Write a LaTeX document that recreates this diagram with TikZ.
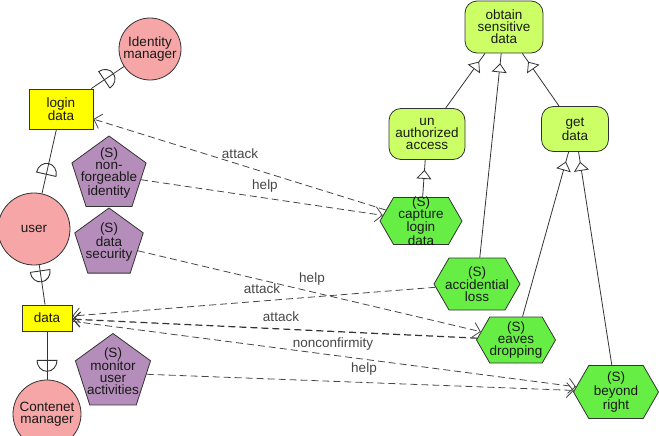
\documentclass[tikz,border=0pt]{standalone}
\usepackage{fontspec}
\setmainfont{Liberation Sans}
\usetikzlibrary{shapes.geometric,shapes.symbols,arrows.meta,decorations.markings}
\definecolor{pinkc}{RGB}{246,166,166}
\definecolor{yelc}{RGB}{255,255,0}
\definecolor{purc}{RGB}{181,141,186}
\definecolor{limec}{RGB}{204,255,102}
\definecolor{grnc}{RGB}{102,238,68}
\definecolor{edgec}{RGB}{51,51,51}
\definecolor{dashc}{RGB}{70,70,70}
\definecolor{txtc}{RGB}{25,25,25}
\definecolor{labc}{RGB}{70,70,70}
\newcommand\nodefont{\fontsize{13.5}{12}\selectfont}
\begin{document}
\begin{tikzpicture}[x=1pt,y=-1pt,
  base/.style={draw=edgec, line width=0.8pt, text=txtc, font=\nodefont, align=center, inner sep=0pt},
  actor/.style={base, circle, fill=pinkc},
  res/.style={base, rectangle, fill=yelc},
  soft/.style={base, regular polygon, regular polygon sides=5, fill=purc},
  goal/.style={base, rectangle, rounded corners=12pt, fill=limec},
  task/.style={base, signal, signal to=east and west, signal pointer angle=120, fill=grnc},
  intxt/.style={text=txtc, font=\nodefont, align=center, inner sep=0pt},
  lab/.style={text=labc, font=\nodefont, inner sep=0pt},
  dep/.style={draw=edgec, line width=0.8pt},
  rel/.style={draw=dashc, line width=0.8pt, dash pattern=on 7pt off 4pt, -{Straight Barb[length=7pt,width=15pt]}},
  dsym/.style={postaction={decorate,decoration={markings,mark=at position #1 with {\draw[edgec,solid,line width=0.9pt] (0,-10pt) -- (0,10pt) arc[start angle=90,end angle=-90,x radius=11pt,y radius=10pt];}}}},
  isa/.style={postaction={decorate,decoration={markings,mark=at position -10pt with {\arrow[edgec,line width=0.8pt]{Triangle[fill=white,length=9pt,width=15pt]}}}}}
]
\useasboundingbox (0,0) rectangle (659,436);
% actors and resources
\node[actor, minimum size=62] (idm) at (150,49) {Identity\\manager};
\node[res, minimum width=64, minimum height=40] (login) at (61,109) {login\\data};
\node[actor, minimum size=72] (user) at (34,229) {user};
\node[res, minimum width=50, minimum height=26] (data) at (47,318) {data};
\node[actor, minimum size=68] (cm) at (47,414) {Contenet\\manager};
% softgoals
\node[soft, minimum size=78, label={[intxt,yshift=2pt]center:{(S)\\non-\\forgeable\\identity}}] (nfi) at (109,175) {};
\node[soft, minimum size=72, label={[intxt,yshift=2pt]center:{(S)\\data\\security}}] (ds) at (109,244) {};
\node[soft, minimum size=79, label={[intxt,yshift=2pt]center:{(S)\\monitor\\user\\activities}}] (mua) at (113,373) {};
% goals
\node[goal, minimum width=78, minimum height=52] (obt) at (504,27) {obtain\\sensitive\\data};
\node[goal, minimum width=76, minimum height=51] (una) at (427,134) {un\\authorized\\access};
\node[goal, minimum width=67, minimum height=45] (get) at (575,129) {get\\data};
% tasks
\node[task, minimum width=82, minimum height=47, label={[intxt]center:{(S)\\capture\\login\\data}}] (cap) at (421,221) {};
\node[task, minimum width=86, minimum height=52, label={[intxt]center:{(S)\\accidential\\loss}}] (acc) at (477,284) {};
\node[task, minimum width=79, minimum height=46, label={[intxt]center:{(S)\\eaves\\dropping}}] (eav) at (516,340) {};
\node[task, minimum width=85, minimum height=53, label={[intxt]center:{(S)\\beyond\\right}}] (bey) at (616,392) {};
% dependency links
\draw[dep, dsym=0.4] (login) -- (idm);
\draw[dep, dsym=0.3] (user) -- (login);
\draw[dep, dsym=0.15] (user) -- (data);
\draw[dep, dsym=0.6] (data) -- (cm);
% decomposition links
\draw[dep, isa] (una) -- (obt);
\draw[dep, isa] (acc) -- (obt);
\draw[dep, isa] (get) -- (obt);
\draw[dep, isa] (cap) -- (una);
\draw[dep, isa] (eav) -- (get);
\draw[dep, isa] (bey) -- (get);
% dashed relations
\draw[rel] (cap) -- (login);
\draw[rel] (nfi) -- (cap);
\draw[rel] (ds) -- (eav);
\draw[rel] (acc) -- (data);
\draw[rel, line width=1.2pt, draw=edgec] (eav) -- (data);
\draw[rel] (data) -- (bey);
\draw[rel] (mua) -- (bey);
% relation labels
\node[lab] (l1) at (240,154) {attack};
\node[lab] (l2) at (265,186) {help};
\node[lab] (l3) at (312,279) {help};
\node[lab] (l4) at (262,289) {attack};
\node[lab] (l5) at (281,317) {attack};
\node[lab] (l6) at (333,344) {nonconfirmity};
\node[lab] (l7) at (364,369) {help};
\end{tikzpicture}
\end{document}
